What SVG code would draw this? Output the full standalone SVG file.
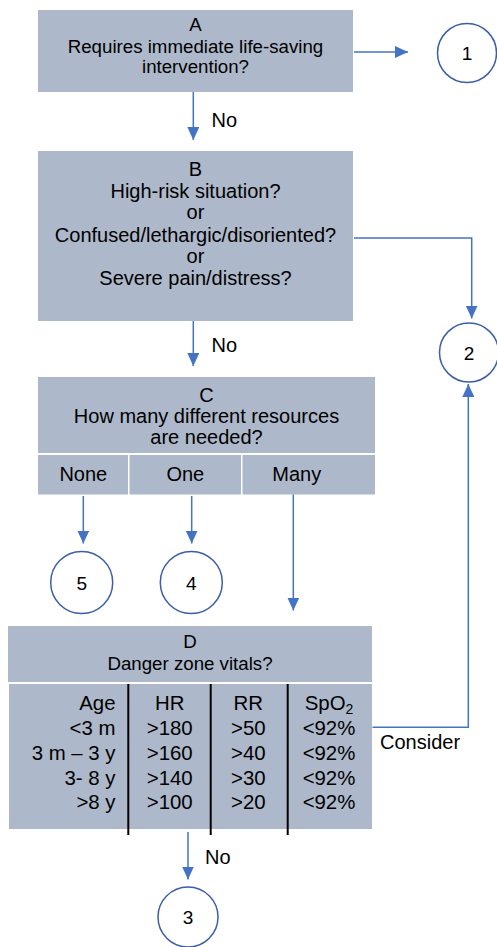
<svg xmlns="http://www.w3.org/2000/svg" width="497" height="947" viewBox="0 0 497 947">
<style>
  .box { fill: #ADB9CA; }
  .t { font-family: "Liberation Sans", Arial, sans-serif; fill: #000; }
  .m { text-anchor: middle; }
  .r { text-anchor: end; }
  .f187 { font-size: 18.7px; }
  .f19 { font-size: 19px; }
  .f20 { font-size: 20px; }
  .f204 { font-size: 20.4px; }
  .circ { fill: #fff; stroke: #3A5FA8; stroke-width: 1.5; }
  .con { fill: none; stroke: #4472C4; stroke-width: 1.5; marker-end: url(#ah); }
  .vl { stroke: #000; stroke-width: 2; }
</style>
<defs>
  <marker id="ah" markerWidth="13" markerHeight="12" refX="13" refY="6" orient="auto" markerUnits="userSpaceOnUse">
    <path d="M0,0 L13,6 L0,12 z" fill="#4472C4"/>
  </marker>
</defs>
<rect width="497" height="947" fill="#fff"/>

<g id="nodeA">
  <rect class="box" x="38" y="10" width="315" height="82"/>
  <text class="t m f187" x="195.5" y="31">A</text>
  <text class="t m f187" x="195.5" y="52.5">Requires immediate life-saving</text>
  <text class="t m f187" x="195.5" y="73">intervention?</text>
</g>

<g id="node1">
  <circle class="circ" cx="467" cy="53" r="29.5"/>
  <text class="t m f19" x="467" y="60">1</text>
</g>

<g id="nodeB">
  <rect class="box" x="38" y="151" width="315" height="170"/>
  <text class="t m f20" x="195.5" y="176">B</text>
  <text class="t m f20" x="195.5" y="197.5">High-risk situation?</text>
  <text class="t m f20" x="195.5" y="219">or</text>
  <text class="t m f20" x="195.5" y="241.5">Confused/lethargic/disoriented?</text>
  <text class="t m f20" x="195.5" y="263">or</text>
  <text class="t m f20" x="195.5" y="284.5">Severe pain/distress?</text>
</g>

<g id="node2">
  <circle class="circ" cx="469" cy="352.5" r="29.5"/>
  <text class="t m f19" x="469" y="359.5">2</text>
</g>

<g id="nodeC">
  <rect class="box" x="38" y="377" width="337" height="76"/>
  <text class="t m f20" x="206.5" y="401.5">C</text>
  <text class="t m f20" x="206.5" y="422.5">How many different resources</text>
  <text class="t m f20" x="206.5" y="443.5">are needed?</text>
  <rect class="box" x="38" y="455" width="90" height="39.5"/>
  <rect class="box" x="129.5" y="455" width="111.5" height="39.5"/>
  <rect class="box" x="242.5" y="455" width="132.5" height="39.5"/>
  <text class="t m f20" x="83.3" y="481">None</text>
  <text class="t m f20" x="185.3" y="481">One</text>
  <text class="t m f20" x="296.7" y="481">Many</text>
</g>

<g id="node5">
  <circle class="circ" cx="81.7" cy="582.5" r="31"/>
  <text class="t m f19" x="81.7" y="589.5">5</text>
</g>

<g id="node4">
  <circle class="circ" cx="191.3" cy="582.5" r="31"/>
  <text class="t m f19" x="191.3" y="589.5">4</text>
</g>

<g id="nodeD">
  <rect class="box" x="8" y="626" width="364" height="56"/>
  <text class="t m f187" x="190" y="647.5">D</text>
  <text class="t m f187" x="190" y="669.5">Danger zone vitals?</text>
  <rect class="box" x="9" y="684" width="363" height="145"/>
  <line class="vl" x1="128.3" y1="684" x2="128.3" y2="835"/>
  <line class="vl" x1="210.7" y1="684" x2="210.7" y2="835"/>
  <line class="vl" x1="287.7" y1="684" x2="287.7" y2="835"/>
  <g class="t f204">
    <text class="r" x="115.5" y="710">Age</text>
    <text class="r" x="115.5" y="735">&lt;3 m</text>
    <text class="r" x="115.5" y="759.5">3 m – 3 y</text>
    <text class="r" x="115.5" y="784.5">3- 8 y</text>
    <text class="r" x="115.5" y="809">&gt;8 y</text>
    <text class="m" x="169.7" y="710">HR</text>
    <text class="m" x="169.7" y="735">&gt;180</text>
    <text class="m" x="169.7" y="759.5">&gt;160</text>
    <text class="m" x="169.7" y="784.5">&gt;140</text>
    <text class="m" x="169.7" y="809">&gt;100</text>
    <text class="m" x="248.3" y="710">RR</text>
    <text class="m" x="248.3" y="735">&gt;50</text>
    <text class="m" x="248.3" y="759.5">&gt;40</text>
    <text class="m" x="248.3" y="784.5">&gt;30</text>
    <text class="m" x="248.3" y="809">&gt;20</text>
    <text class="m" x="329" y="710">SpO<tspan font-size="14" dy="4">2</tspan></text>
    <text class="m" x="329" y="735">&lt;92%</text>
    <text class="m" x="329" y="759.5">&lt;92%</text>
    <text class="m" x="329" y="784.5">&lt;92%</text>
    <text class="m" x="329" y="809">&lt;92%</text>
  </g>
</g>

<g id="node3">
  <circle class="circ" cx="188" cy="917" r="30"/>
  <text class="t m f19" x="188" y="924">3</text>
</g>

<g id="connectors">
  <path class="con" d="M354,52 H408"/>
  <path class="con" d="M193.3,92 V140"/>
  <text class="t f20" x="211.5" y="127">No</text>
  <path class="con" d="M354,238 H471.7 V318.5"/>
  <path class="con" d="M193.3,321 V366"/>
  <text class="t f20" x="211.5" y="352">No</text>
  <path class="con" d="M83.3,496 V543.5"/>
  <path class="con" d="M191.7,496 V543.5"/>
  <path class="con" d="M293.3,494.5 V610.5"/>
  <path class="con" d="M372.5,727.3 H468.3 V384"/>
  <text class="t f20" x="380" y="748.5">Consider</text>
  <path class="con" d="M188,832 V879.5"/>
  <text class="t f20" x="205" y="864">No</text>
</g>
</svg>
